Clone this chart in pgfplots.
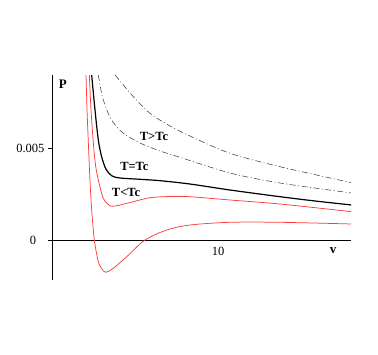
\documentclass[border=0pt]{standalone}
\usepackage{fontspec}
\setmainfont{Liberation Serif}
\usepackage{pgfplots}
\pgfplotsset{compat=1.18}
\definecolor{curveRed}{HTML}{FF3C3C}
\definecolor{curveGray}{HTML}{404040}

\begin{document}
\begin{tikzpicture}
\path[use as bounding box] (0,0) rectangle (378pt,354pt);
\begin{axis}[
  at={(52pt,114pt)}, anchor=origin,
  scale only axis,
  width=303pt, height=205pt,
  xmin=-0.24, xmax=18.01,
  ymin=-0.002174, ymax=0.008967,
  axis lines=middle,
  axis line style={-, black, line width=0.6pt},
  scaled y ticks=false,
  xtick={10}, ytick={0.005},
  xticklabels={10}, yticklabels={0.005},
  xtick style={draw=none},
  ytick style={black, line width=0.5pt},
  tick align=outside, major tick length=4pt,
  tick label style={font=\fontsize{12.5}{14}\selectfont},
  /pgf/number format/assume math mode=true,
  clip mode=individual,
  every axis plot/.append style={smooth},
]
% T < Tc, lower isotherm
\addplot[curveRed, line width=0.75pt] coordinates {
  (2.05,0.008967) (2.11,0.007065) (2.19,0.005272) (2.28,0.00337)
  (2.39,0.00163) (2.55,0) (2.79,-0.001179) (3.01,-0.001576)
  (3.25,-0.001755) (3.69,-0.001538) (4.50,-0.000908) (5.60,0)
  (6.91,0.000543) (8.31,0.000815) (10.72,0.000962) (13.73,0.000962)
  (18.05,0.000870)
};
% T < Tc, upper isotherm
\addplot[curveRed, line width=0.75pt] coordinates {
  (2.25,0.008967) (2.35,0.00707) (2.49,0.005272) (2.62,0.004076)
  (2.79,0.003261) (3.09,0.002266) (3.49,0.001864) (3.90,0.001864)
  (4.90,0.002082) (5.90,0.002299) (7.11,0.002364) (8.31,0.002353)
  (10.72,0.002174) (13.73,0.001957) (18.05,0.001538)
};
% T = Tc
\addplot[black, line width=1.2pt] coordinates {
  (2.39,0.008967) (2.59,0.007065) (2.79,0.005435) (2.99,0.004527)
  (3.25,0.003850) (3.60,0.003490) (4.10,0.003370) (5.30,0.003299)
  (6.51,0.003223) (8.31,0.003043) (10.72,0.002717) (13.73,0.002353)
  (15.84,0.00212) (18.05,0.001902)
};
% T > Tc
\addplot[curveGray, line width=0.55pt, dash pattern=on 6pt off 2.5pt on 1pt off 2.5pt] coordinates {
  (2.79,0.008967) (3.01,0.007880) (3.30,0.007065) (3.67,0.006413)
  (4.28,0.005815) (5.30,0.005272) (6.51,0.004837) (7.71,0.004495)
  (10.72,0.003641) (13.73,0.003098) (18.05,0.002554)
};
\addplot[curveGray, line width=0.55pt, dash pattern=on 6pt off 2.5pt on 1pt off 2.5pt] coordinates {
  (3.80,0.008967) (4.40,0.008315) (4.90,0.007788) (5.90,0.006886)
  (7.11,0.006196) (8.31,0.005652) (10.72,0.004712) (13.73,0.003984)
  (18.05,0.003114)
};
\node[font=\fontsize{12.5}{15}\selectfont\bfseries] at (axis cs:6.14,0.005652) {T>Tc};
\node[font=\fontsize{12.5}{15}\selectfont\bfseries] at (axis cs:4.96,0.003984) {T=Tc};
\node[font=\fontsize{12.5}{15}\selectfont\bfseries] at (axis cs:4.46,0.002592) {T<Tc};
\node[font=\fontsize{13}{15}\selectfont\bfseries] at (axis cs:0.66,0.00848) {P};
\node[font=\fontsize{13}{15}\selectfont\bfseries] at (axis cs:16.93,-0.000598) {v};
\node[font=\fontsize{12.5}{14}\selectfont] at (axis cs:-1.14,0) {0};
\end{axis}
\end{tikzpicture}
\end{document}
